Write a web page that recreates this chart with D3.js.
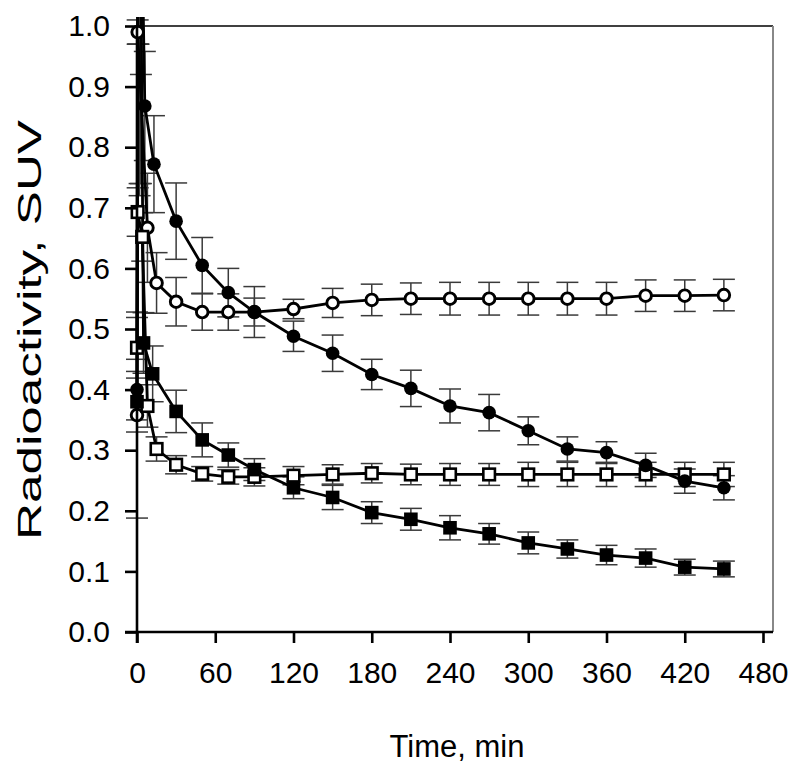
<!DOCTYPE html>
<html><head><meta charset="utf-8">
<script src="https://cdn.jsdelivr.net/npm/d3@7"></script>
<style>body{margin:0;background:#fff}svg{display:block}text{font-family:"Liberation Sans",Arial,sans-serif;fill:#000}</style>
</head><body>
<svg id="chart" width="800" height="770"></svg>
<script>
// ---- data ----
const xTicks = [0, 60, 120, 180, 240, 300, 360, 420, 480];
const yTicks = [0, 0.1, 0.2, 0.3, 0.4, 0.5, 0.6, 0.7, 0.8, 0.9, 1.0];
const lateTimes = [120, 150, 180, 210, 240, 270, 300, 330, 360, 390, 420, 450];

const filledCircleT = [0, 1, 2, 3, 6, 13, 30, 50, 70, 90, ...lateTimes];
const filledCircleV = [0.40, 1.9, 1.6, 1.25, 0.868, 0.772, 0.678, 0.605, 0.56, 0.528, 0.488, 0.46, 0.425, 0.402, 0.373, 0.362, 0.332, 0.302, 0.296, 0.275, 0.249, 0.238];
const filledCircleE = [0.05, 0.93, 0.88, 0.33, 0.09, 0.08, 0.063, 0.046, 0.04, 0.042, 0.025, 0.03, 0.025, 0.03, 0.028, 0.03, 0.023, 0.02, 0.018, 0.02, 0.02, 0.02];

const openCircleT = [0, 0.5, 8, 15, 30, 50, 70, 90, ...lateTimes];
const openCircleV = [0.358, 0.99, 0.667, 0.576, 0.545, 0.528, 0.528, 0.528, 0.533, 0.543, 0.548, 0.55, 0.55, 0.55, 0.55, 0.55, 0.55, 0.555, 0.555, 0.556];
const openCircleE = [0.17, 0.02, 0.09, 0.05, 0.04, 0.03, 0.03, 0.023, 0.016, 0.024, 0.026, 0.026, 0.027, 0.027, 0.027, 0.027, 0.027, 0.026, 0.026, 0.026];

const filledSquareT = [0, 1, 2, 3, 5, 12, 30, 50, 70, 90, ...lateTimes];
const filledSquareV = [0.38, 1.6, 1.3, 1.1, 0.477, 0.426, 0.364, 0.317, 0.292, 0.268, 0.238, 0.222, 0.197, 0.186, 0.172, 0.162, 0.147, 0.137, 0.127, 0.122, 0.107, 0.104];
const filledSquareE = [0.05, 0.63, 0.56, 0.36, 0.05, 0.046, 0.035, 0.028, 0.02, 0.018, 0.018, 0.02, 0.018, 0.018, 0.02, 0.017, 0.018, 0.015, 0.016, 0.015, 0.013, 0.013];

const openSquareT = [0, 0.5, 4, 8, 15, 30, 50, 70, 90, ...lateTimes];
const openSquareV = [0.469, 0.693, 0.652, 0.373, 0.302, 0.276, 0.261, 0.256, 0.256, 0.258, 0.26, 0.262, 0.26, 0.26, 0.26, 0.26, 0.26, 0.26, 0.26, 0.26, 0.26];
const openSquareE = [0.05, 0.04, 0.04, 0.035, 0.02, 0.015, 0.012, 0.012, 0.015, 0.015, 0.016, 0.016, 0.017, 0.018, 0.018, 0.02, 0.02, 0.02, 0.02, 0.02, 0.02];

const series = [
  {t: openCircleT, v: openCircleV, e: openCircleE, shape: "circle", fill: "#fff"},
  {t: openSquareT, v: openSquareV, e: openSquareE, shape: "square", fill: "#fff"},
  {t: filledCircleT, v: filledCircleV, e: filledCircleE, shape: "circle", fill: "#000"},
  {t: filledSquareT, v: filledSquareV, e: filledSquareE, shape: "square", fill: "#000"}
];

// ---- layout ----
const svg = d3.select("#chart");
const x = d3.scaleLinear().domain([0, 480]).range([137, 763]);
const y = d3.scaleLinear().domain([0, 1]).range([632, 26]);

svg.append("defs").append("clipPath").attr("id", "clip")
  .append("rect").attr("x", 120).attr("y", 17).attr("width", 660).attr("height", 640);

// frame: top & right
svg.append("line").attr("x1", 137).attr("x2", 773).attr("y1", 26).attr("y2", 26)
  .attr("stroke", "#000").attr("stroke-width", 1.5);
svg.append("line").attr("x1", 773).attr("x2", 773).attr("y1", 26).attr("y2", 632)
  .attr("stroke", "#888").attr("stroke-width", 2);

const plot = svg.append("g").attr("clip-path", "url(#clip)");

const rows = series.map(s => s.t.map((t, i) => ({t, v: s.v[i], e: s.e[i]})));

// error bars
series.forEach((s, k) => {
  const g = plot.append("g").attr("stroke", "#3a3a3a").attr("stroke-width", 1.5);
  rows[k].forEach(d => {
    const cx = x(d.t);
    g.append("line").attr("x1", cx).attr("x2", cx).attr("y1", y(d.v - d.e)).attr("y2", y(d.v + d.e));
    g.append("line").attr("x1", cx - 11).attr("x2", cx + 11).attr("y1", y(d.v - d.e)).attr("y2", y(d.v - d.e));
    g.append("line").attr("x1", cx - 11).attr("x2", cx + 11).attr("y1", y(d.v + d.e)).attr("y2", y(d.v + d.e));
  });
});

// lines
const line = d3.line().x(d => x(d.t)).y(d => y(d.v));
series.forEach((s, k) => {
  plot.append("path").datum(rows[k]).attr("d", line)
    .attr("fill", "none").attr("stroke", "#000").attr("stroke-width", 2.8);
});

// markers
series.forEach((s, k) => {
  const g = plot.append("g");
  rows[k].forEach(d => {
    if (s.shape === "circle") {
      g.append("circle").attr("cx", x(d.t)).attr("cy", y(d.v)).attr("r", s.fill === "#000" ? 6.8 : 5.8)
        .attr("fill", s.fill).attr("stroke", "#000").attr("stroke-width", s.fill === "#000" ? 0 : 2.9);
    } else {
      const h = s.fill === "#000" ? 6.8 : 5.8;
      g.append("rect").attr("x", x(d.t) - h).attr("y", y(d.v) - h).attr("width", 2 * h).attr("height", 2 * h)
        .attr("fill", s.fill).attr("stroke", "#000").attr("stroke-width", s.fill === "#000" ? 0 : 2.6);
    }
  });
});

// axes
const xAxis = d3.axisBottom(x).tickValues(xTicks).tickSize(11).tickSizeOuter(0).tickPadding(19).tickFormat(d3.format("d"));
const gx = svg.append("g").attr("transform", "translate(0,632)").call(xAxis);
gx.select(".domain").attr("d", "M125,0H773").attr("stroke-width", 2.6);
gx.selectAll(".tick line").attr("stroke-width", 2.6);
gx.selectAll(".tick text").attr("font-size", 30).attr("font-family", "Liberation Sans, Arial, sans-serif");

const yAxis = d3.axisLeft(y).tickValues(yTicks).tickSize(12).tickSizeOuter(0).tickPadding(15).tickFormat(d3.format(".1f"));
const gy = svg.append("g").attr("transform", "translate(137,0)").call(yAxis);
gy.select(".domain").attr("d", "M0,26V643").attr("stroke-width", 2.6);
gy.selectAll(".tick line").attr("stroke-width", 2.6);
gy.selectAll(".tick text").attr("font-size", 30).attr("font-family", "Liberation Sans, Arial, sans-serif");

svg.append("text").attr("x", 457).attr("y", 757).attr("text-anchor", "middle")
  .attr("font-size", 31).text("Time, min");
svg.append("text").attr("transform", "translate(41,330) rotate(-90)").attr("text-anchor", "middle")
  .attr("font-size", 34).attr("textLength", 420).attr("lengthAdjust", "spacingAndGlyphs")
  .text("Radioactivity, SUV");
</script>
</body></html>
